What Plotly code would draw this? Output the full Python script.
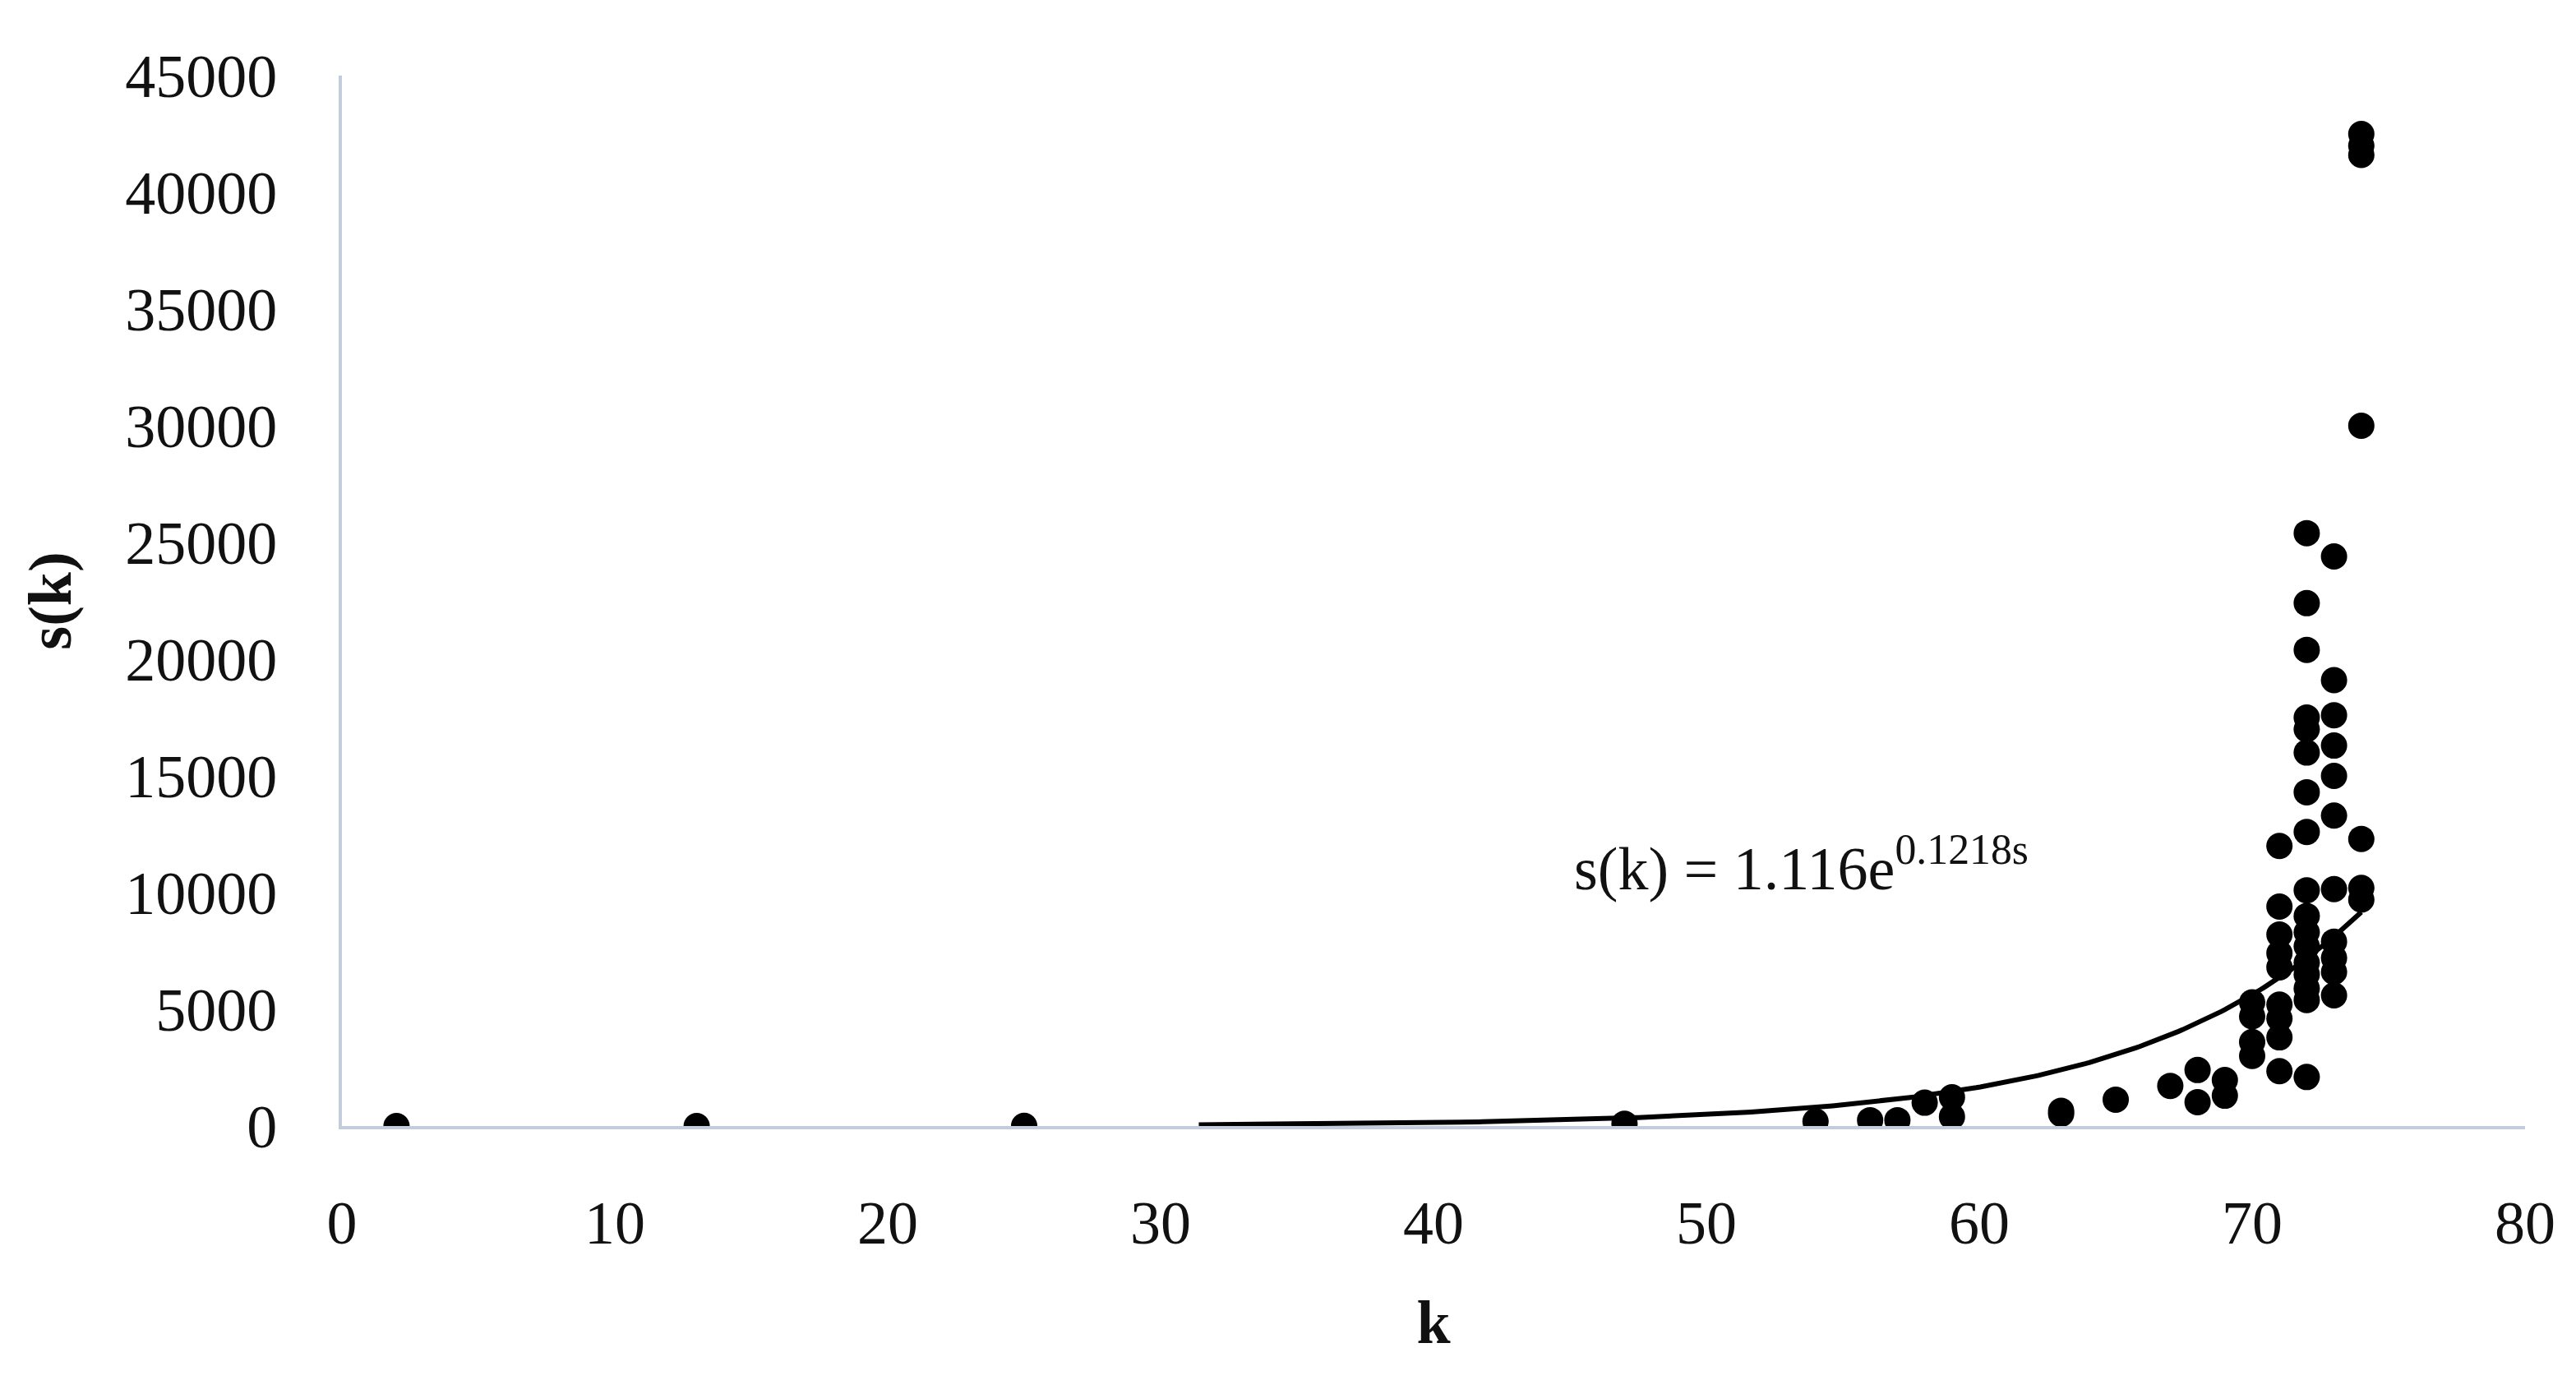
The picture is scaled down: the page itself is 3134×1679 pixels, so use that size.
import numpy as np
import plotly.graph_objects as go

# ---- data ----
k_values = [2, 13, 25, 47, 54, 56, 57, 58, 59, 59, 63, 63, 65, 67, 68, 68, 69, 69,
            70, 70, 70, 70,
            71, 71, 71, 71, 71, 71, 71, 71, 71,
            72, 72, 72, 72, 72, 72, 72, 72, 72, 72, 72, 72, 72, 72, 72, 72, 72,
            73, 73, 73, 73, 73, 73, 73, 73, 73, 73, 73,
            74, 74, 74, 74, 74, 74, 74]
s_values = [1, 2, 5, 100, 200, 250, 250, 1000, 1230, 400, 650, 520, 1130, 1720, 2400, 1020, 1970, 1300,
            5300, 4700, 3600, 3000,
            12000, 9400, 8200, 7400, 6800, 5200, 4600, 3800, 2350,
            25400, 22400, 20400, 17500, 17000, 16000, 14300, 12600, 10100, 9000, 8300, 7700, 7000, 6500, 5900, 5400, 2100,
            24400, 19100, 17600, 16300, 15000, 13300, 10150, 7900, 7200, 6600, 5600,
            42500, 42000, 41600, 30000, 12300, 10200, 9700]

# trendline shown on the chart: s(k) = 1.116 e^(0.1218 k)
trend_a = 1.116
trend_b = 0.1218
trend_start = 31.4
trend_end = 74

x_ticks = [0, 10, 20, 30, 40, 50, 60, 70, 80]
y_ticks = [0, 5000, 10000, 15000, 20000, 25000, 30000, 35000, 40000, 45000]

equation_text = "s(k) = 1.116e<sup>0.1218s</sup>"

FONT = "Liberation Serif"
TXT = "#111111"
AXIS_COL = "#C3CCDA"
FS = 74

tx = np.linspace(trend_start, trend_end, 300)
ty = trend_a * np.exp(trend_b * tx)

fig = go.Figure()
fig.add_trace(go.Scatter(
    x=tx, y=ty, mode="lines",
    line=dict(color="black", width=6),
    hoverinfo="skip", showlegend=False))
fig.add_trace(go.Scatter(
    x=k_values, y=s_values, mode="markers",
    marker=dict(color="black", size=32, line=dict(width=0)),
    showlegend=False))

fig.add_annotation(
    x=45.1, y=11200, xref="x", yref="y",
    text=equation_text, showarrow=False,
    xanchor="left", yanchor="middle",
    font=dict(family=FONT, size=FS, color=TXT))

fig.update_layout(
    width=3134, height=1679,
    margin=dict(l=408, r=70, t=84, b=317),
    paper_bgcolor="white", plot_bgcolor="white",
    font=dict(family=FONT, color=TXT, size=FS),
    xaxis=dict(
        range=[0, 80], tickvals=x_ticks, ticktext=[str(v) for v in x_ticks],
        showgrid=False, zeroline=False,
        showline=True, linecolor=AXIS_COL, linewidth=4,
        ticks="", ticklabelstandoff=50,
        tickfont=dict(family=FONT, size=FS, color=TXT),
        title=dict(text="<b>k</b>", font=dict(family=FONT, size=FS, color=TXT), standoff=55),
    ),
    yaxis=dict(
        range=[0, 45000], tickvals=y_ticks, ticktext=[str(v) for v in y_ticks],
        showgrid=False, zeroline=False,
        showline=True, linecolor=AXIS_COL, linewidth=4,
        ticks="", ticklabelstandoff=60,
        tickfont=dict(family=FONT, size=FS, color=TXT),
        title=dict(text="<b>s(k)</b>", font=dict(family=FONT, size=FS, color=TXT), standoff=42),
    ),
)

fig.write_html("out.html")
